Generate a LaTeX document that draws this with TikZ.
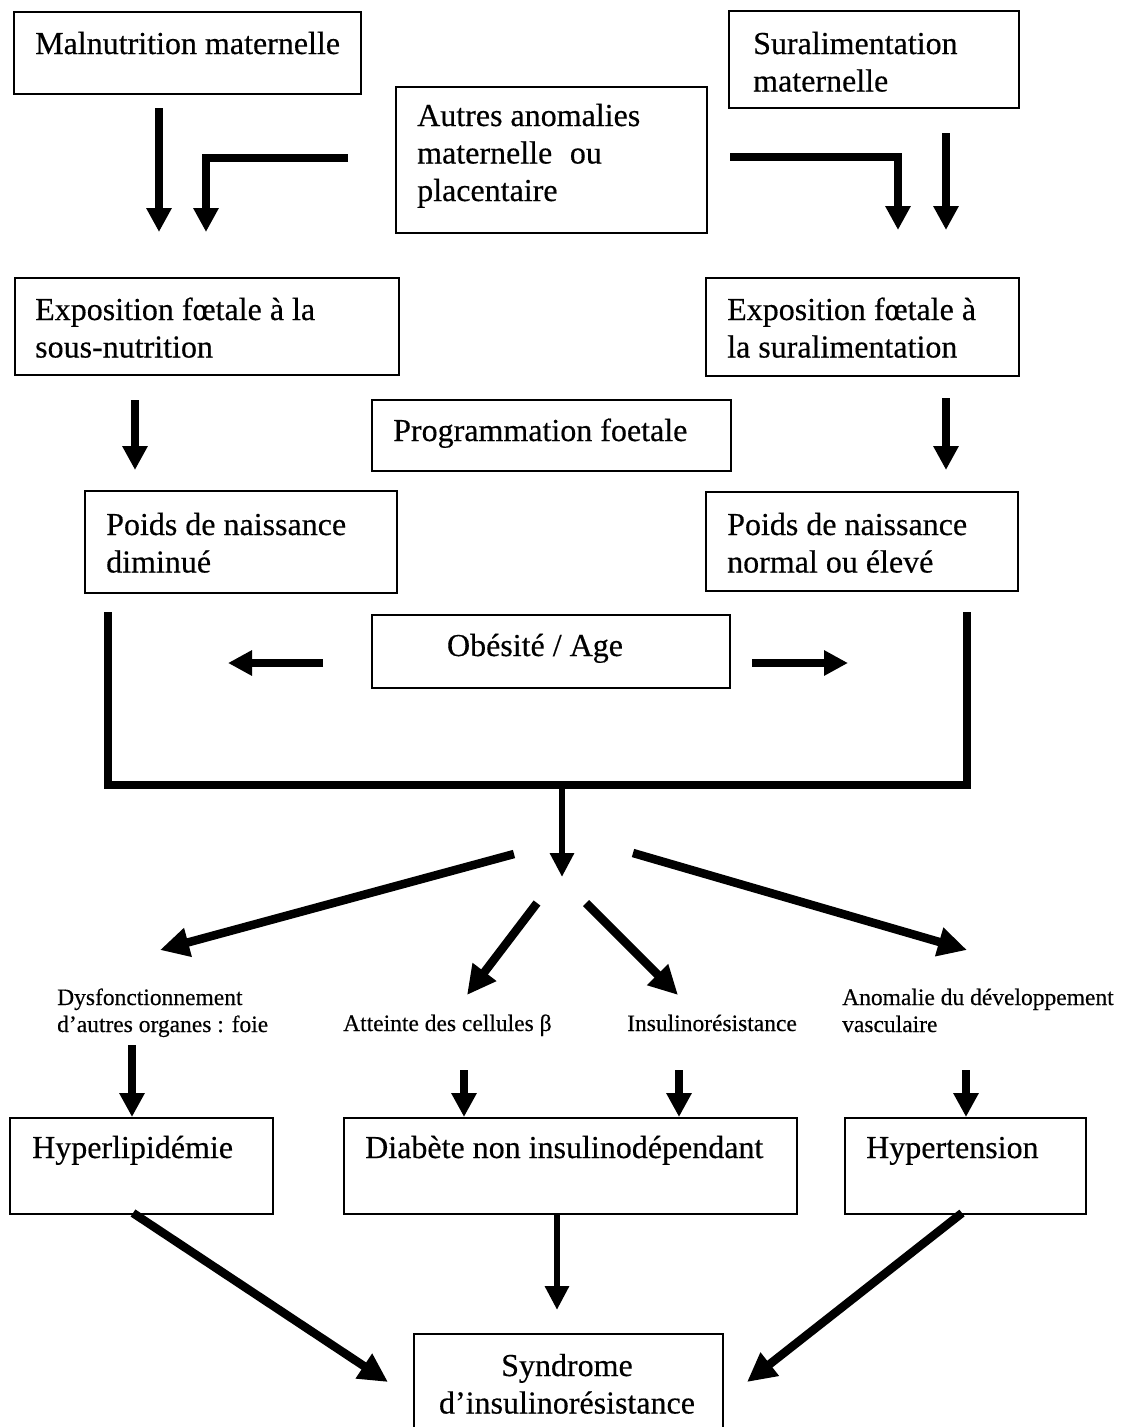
\documentclass[tikz,border=0pt]{standalone}
\usepackage{fontspec}
\setmainfont[FakeBold=0.4]{Liberation Serif}
\usetikzlibrary{arrows.meta}
% multi-line labels whose baseline is that of the first line
\newcommand\rows[1]{\begin{tabular}[t]{@{}l@{}}#1\end{tabular}}
\newcommand\crows[1]{\begin{tabular}[t]{@{}c@{}}#1\end{tabular}}
\begin{document}
\begin{tikzpicture}[x=1pt,y=-1pt,
  box/.style={draw, line width=1.8pt, inner sep=0pt, anchor=north west},
  lbl/.style={inner sep=0pt, anchor=base west, font=\fontsize{32}{37.5}\selectfont},
  sml/.style={inner sep=0pt, anchor=base west, font=\fontsize{23.5}{27}\selectfont},
  fat/.style={line width=8.5pt, line join=miter, -{Triangle[length=24pt,width=24pt]}},
  slim/.style={line width=6.5pt, -{Triangle[length=24pt,width=23pt]}},
  diag/.style={line width=8.5pt, -{Triangle[length=29pt,width=28pt]}},
  bracket/.style={line width=8.5pt, line join=miter}
]
\clip (0,0) rectangle (1126,1427);
\fill[white] (0,0) rectangle (1126,1427);

% boxes
\node[box, minimum width=347pt, minimum height=82pt] (mal) at (13,11) {};
\node[box, minimum width=290pt, minimum height=97pt] (sur) at (728,10) {};
\node[box, minimum width=311pt, minimum height=146pt] (aut) at (395,86) {};
\node[box, minimum width=384pt, minimum height=97pt] (expL) at (14,277) {};
\node[box, minimum width=313pt, minimum height=98pt] (expR) at (705,277) {};
\node[box, minimum width=359pt, minimum height=71pt] (prog) at (371,399) {};
\node[box, minimum width=312pt, minimum height=102pt] (poidsL) at (84,490) {};
\node[box, minimum width=312pt, minimum height=99pt] (poidsR) at (705,491) {};
\node[box, minimum width=358pt, minimum height=73pt] (obes) at (371,614) {};
\node[box, minimum width=263pt, minimum height=96pt] (hyp) at (9,1117) {};
\node[box, minimum width=453pt, minimum height=96pt] (dia) at (343,1117) {};
\node[box, minimum width=241pt, minimum height=96pt] (hta) at (844,1117) {};
\node[box, minimum width=309pt, minimum height=110pt] (syn) at (413,1333) {};

% labels
\node[lbl] (mal-t) at (35,54) {Malnutrition maternelle};
\node[lbl] (sur-t) at (753,54) {\rows{Suralimentation\\maternelle}};
\node[lbl] (aut-t) at (417,126) {\rows{Autres anomalies\\maternelle\hspace{0.55em}ou\\placentaire}};
\node[lbl] (expL-t) at (35,320) {\rows{Exposition fœtale à la\\sous-nutrition}};
\node[lbl] (expR-t) at (727,320) {\rows{Exposition fœtale à\\la suralimentation}};
\node[lbl] (prog-t) at (393,441) {Programmation foetale};
\node[lbl] (poidsL-t) at (106,535) {\rows{Poids de naissance\\diminué}};
\node[lbl] (poidsR-t) at (727,535) {\rows{Poids de naissance\\normal ou élevé}};
\node[lbl, anchor=base] (obes-t) at (535,656) {Obésité / Age};
\node[sml] (dys-t) at (57,1005) {\rows{Dysfonctionnement\\d’autres organes : foie}};
\node[sml] (att-t) at (343,1031) {Atteinte des cellules β};
\node[sml] (ins-t) at (627,1031) {Insulinorésistance};
\node[sml] (ano-t) at (842,1005) {\rows{Anomalie du développement\\vasculaire}};
\node[lbl] (hyp-t) at (32,1158) {Hyperlipidémie};
\node[lbl] (dia-t) at (365,1158) {Diabète non insulinodépendant};
\node[lbl] (hta-t) at (866,1158) {Hypertension};
\node[lbl, anchor=base] (syn-t) at (567,1376) {\crows{Syndrome\\d’insulinorésistance}};

% arrow end points
\coordinate (m1) at (159,108);   \coordinate (m1e) at (159,232);
\coordinate (a1) at (348,158);   \coordinate (a1e) at (206,232);
\coordinate (a2) at (730,157);   \coordinate (a2e) at (898,230);
\coordinate (s1) at (946,133);   \coordinate (s1e) at (946,230);
\coordinate (e1) at (135,400);   \coordinate (e1e) at (135,470);
\coordinate (e2) at (946,398);   \coordinate (e2e) at (946,470);
\coordinate (o1) at (323,663);   \coordinate (o1e) at (228,663);
\coordinate (o2) at (752,663);   \coordinate (o2e) at (848,663);
\coordinate (bl) at (108,612);   \coordinate (br) at (967,612);
\coordinate (bb) at (967,785);
\coordinate (c0) at (562,785);   \coordinate (c0e) at (562,877);
\coordinate (d1) at (514,854);   \coordinate (d1e) at (160,950);
\coordinate (d2) at (537,903);   \coordinate (d2e) at (467,995);
\coordinate (d3) at (586,903);   \coordinate (d3e) at (678,995);
\coordinate (d4) at (633,853);   \coordinate (d4e) at (967,950);
\coordinate (f1) at (132,1045);
\coordinate (f2) at (464,1070);
\coordinate (f3) at (679,1070);
\coordinate (f4) at (966,1070);
\coordinate (g1) at (133,1213);  \coordinate (g1e) at (388,1382);
\coordinate (g2) at (557,1213);  \coordinate (g2e) at (557,1310);
\coordinate (g3) at (962,1213);  \coordinate (g3e) at (747,1382);

% causes down to foetal exposure
\draw[fat] (m1) -- (m1e);
\draw[fat] (a1) -| (a1e);
\draw[fat] (a2) -| (a2e);
\draw[fat] (s1) -- (s1e);
\draw[fat] (e1) -- (e1e);
\draw[fat] (e2) -- (e2e);

% obesity / age
\draw[fat] (o1) -- (o1e);
\draw[fat] (o2) -- (o2e);

% collecting bracket
\draw[bracket] (bl) |- (bb) -- (br);
\draw[slim] (c0) -- (c0e);

% fan-out
\draw[diag] (d1) -- (d1e);
\draw[diag] (d2) -- (d2e);
\draw[diag] (d3) -- (d3e);
\draw[diag] (d4) -- (d4e);

% down to diseases
\draw[fat] (f1) -- (f1 |- hyp.north);
\draw[fat] (f2) -- (f2 |- dia.north);
\draw[fat] (f3) -- (f3 |- dia.north);
\draw[fat] (f4) -- (f4 |- hta.north);

% towards the syndrome
\draw[diag] (g1) -- (g1e);
\draw[slim] (g2) -- (g2e);
\draw[diag] (g3) -- (g3e);
\end{tikzpicture}
\end{document}
